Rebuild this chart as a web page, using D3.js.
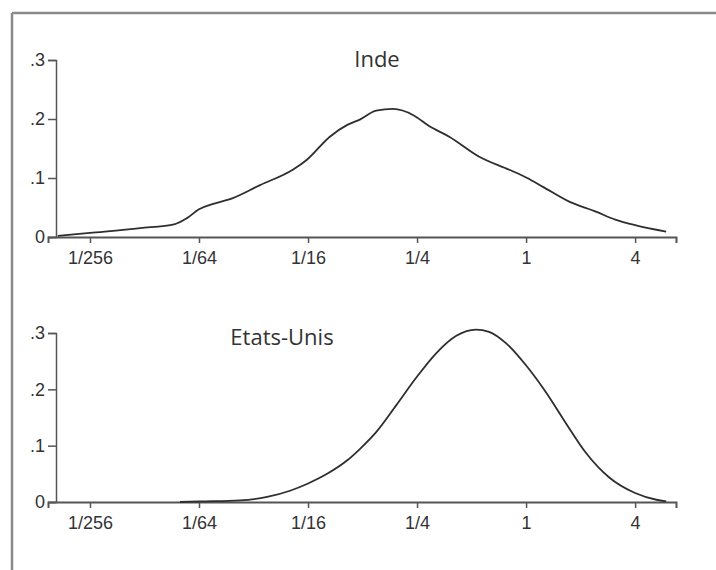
<!DOCTYPE html>
<html>
<head>
<meta charset="utf-8">
<script src="https://cdn.jsdelivr.net/npm/d3@7"></script>
<style>
  html, body { margin: 0; padding: 0; background: #fff; }
  svg { display: block; }
</style>
</head>
<body>
<svg id="chart" width="716" height="570"></svg>
<script>
// Income distribution densities on a log2 scale (income relative to the mean)
const tickLog2 = [-8, -6, -4, -2, 0, 2];
const tickLabels = ["1/256", "1/64", "1/16", "1/4", "1", "4"];
const yTicks = [0, 0.1, 0.2, 0.3];
const yTickLabels = ["0", ".1", ".2", ".3"];

// India
const indeLog2 = [-8.59, -8.0, -7.08, -6.44, -6.22, -6.0, -5.74, -5.38, -4.88, -4.28, -4.02,
                  -3.60, -3.28, -3.05, -2.75, -2.44, -2.06, -1.78, -1.41, -0.86, -0.31,
                  0.02, 0.31, 0.79, 1.28, 1.65, 2.0, 2.57];
const indeDensity = [0.002, 0.007, 0.015, 0.022, 0.032, 0.047, 0.056, 0.066, 0.088, 0.114, 0.131,
                     0.170, 0.190, 0.199, 0.214, 0.217, 0.206, 0.188, 0.170, 0.136, 0.114,
                     0.100, 0.085, 0.060, 0.043, 0.029, 0.020, 0.009];

// United States
const usLog2 = [-6.35, -5.98, -5.25, -4.75, -4.33, -4.02, -3.65, -3.28, -3.05, -2.75, -2.38,
                -2.02, -1.65, -1.28, -0.92, -0.68, -0.37, 0.02, 0.37, 0.73, 1.10, 1.52,
                2.0, 2.39, 2.57];
const usDensity = [0.0, 0.001, 0.003, 0.009, 0.020, 0.032, 0.050, 0.074, 0.094, 0.124, 0.172,
                   0.220, 0.264, 0.295, 0.306, 0.302, 0.282, 0.240, 0.194, 0.140, 0.087, 0.044,
                   0.016, 0.004, 0.001];

const panels = [
  { title: "Inde", xs: indeLog2, ys: indeDensity, top: 60, bottom: 237, titleX: 377, titleY: 67 },
  { title: "Etats-Unis", xs: usLog2, ys: usDensity, top: 333, bottom: 502, titleX: 282, titleY: 345 }
];

const svg = d3.select("#chart");
const ink = "#2e2e2e";
const axisInk = "#555";
const labelFont = "'Liberation Sans', Arial, sans-serif";

// frame
svg.append("line").attr("x1", 12).attr("x2", 716).attr("y1", 13).attr("y2", 13)
  .attr("stroke", "#8a8a8a").attr("stroke-width", 2.5);
svg.append("line").attr("x1", 12).attr("x2", 12).attr("y1", 13).attr("y2", 570)
  .attr("stroke", "#8a8a8a").attr("stroke-width", 2.5);

const x = d3.scaleLinear().domain([-8.77, 2.75]).range([48, 676]);
const yAxisX = 56;

panels.forEach(p => {
  const y = d3.scaleLinear().domain([0, 0.3]).range([p.bottom, p.top]);
  const g = svg.append("g");

  // x axis
  const xAxis = d3.axisBottom(x)
    .tickValues(tickLog2)
    .tickFormat((d, i) => tickLabels[i])
    .tickSizeOuter(0)
    .tickSize(6)
    .tickPadding(8);
  const gx = g.append("g").attr("transform", `translate(0,${p.bottom})`).call(xAxis);
  gx.select(".domain").attr("stroke", axisInk).attr("stroke-width", 2);
  gx.selectAll(".tick line").attr("stroke", axisInk).attr("stroke-width", 1.5);
  gx.selectAll(".tick text")
    .attr("font-family", labelFont)
    .attr("font-size", 18).attr("fill", "#333");

  // y axis
  const yAxis = d3.axisLeft(y)
    .tickValues(yTicks)
    .tickFormat((d, i) => yTickLabels[i])
    .tickSizeOuter(0)
    .tickSize(8)
    .tickPadding(3);
  const gy = g.append("g").attr("transform", `translate(${yAxisX},0)`).call(yAxis);
  gy.select(".domain").attr("stroke", axisInk).attr("stroke-width", 1.5);
  gy.selectAll(".tick line").attr("stroke", axisInk).attr("stroke-width", 1.5);
  gy.selectAll(".tick text")
    .attr("font-family", labelFont)
    .attr("font-size", 18).attr("fill", "#333");

  // density curve
  const pts = p.xs.map((v, i) => [v, p.ys[i]]);
  const line = d3.line().x(d => x(d[0])).y(d => y(d[1])).curve(d3.curveMonotoneX);
  g.append("path").datum(pts)
    .attr("d", line)
    .attr("fill", "none")
    .attr("stroke", ink)
    .attr("stroke-width", 1.8)
    .attr("stroke-linejoin", "round");

  // panel title
  g.append("text")
    .attr("x", p.titleX).attr("y", p.titleY)
    .attr("text-anchor", "middle")
    .attr("font-family", "'Open Sans', sans-serif")
    .attr("font-size", 22)
    .attr("fill", "#333")
    .text(p.title);
});
</script>
</body>
</html>
